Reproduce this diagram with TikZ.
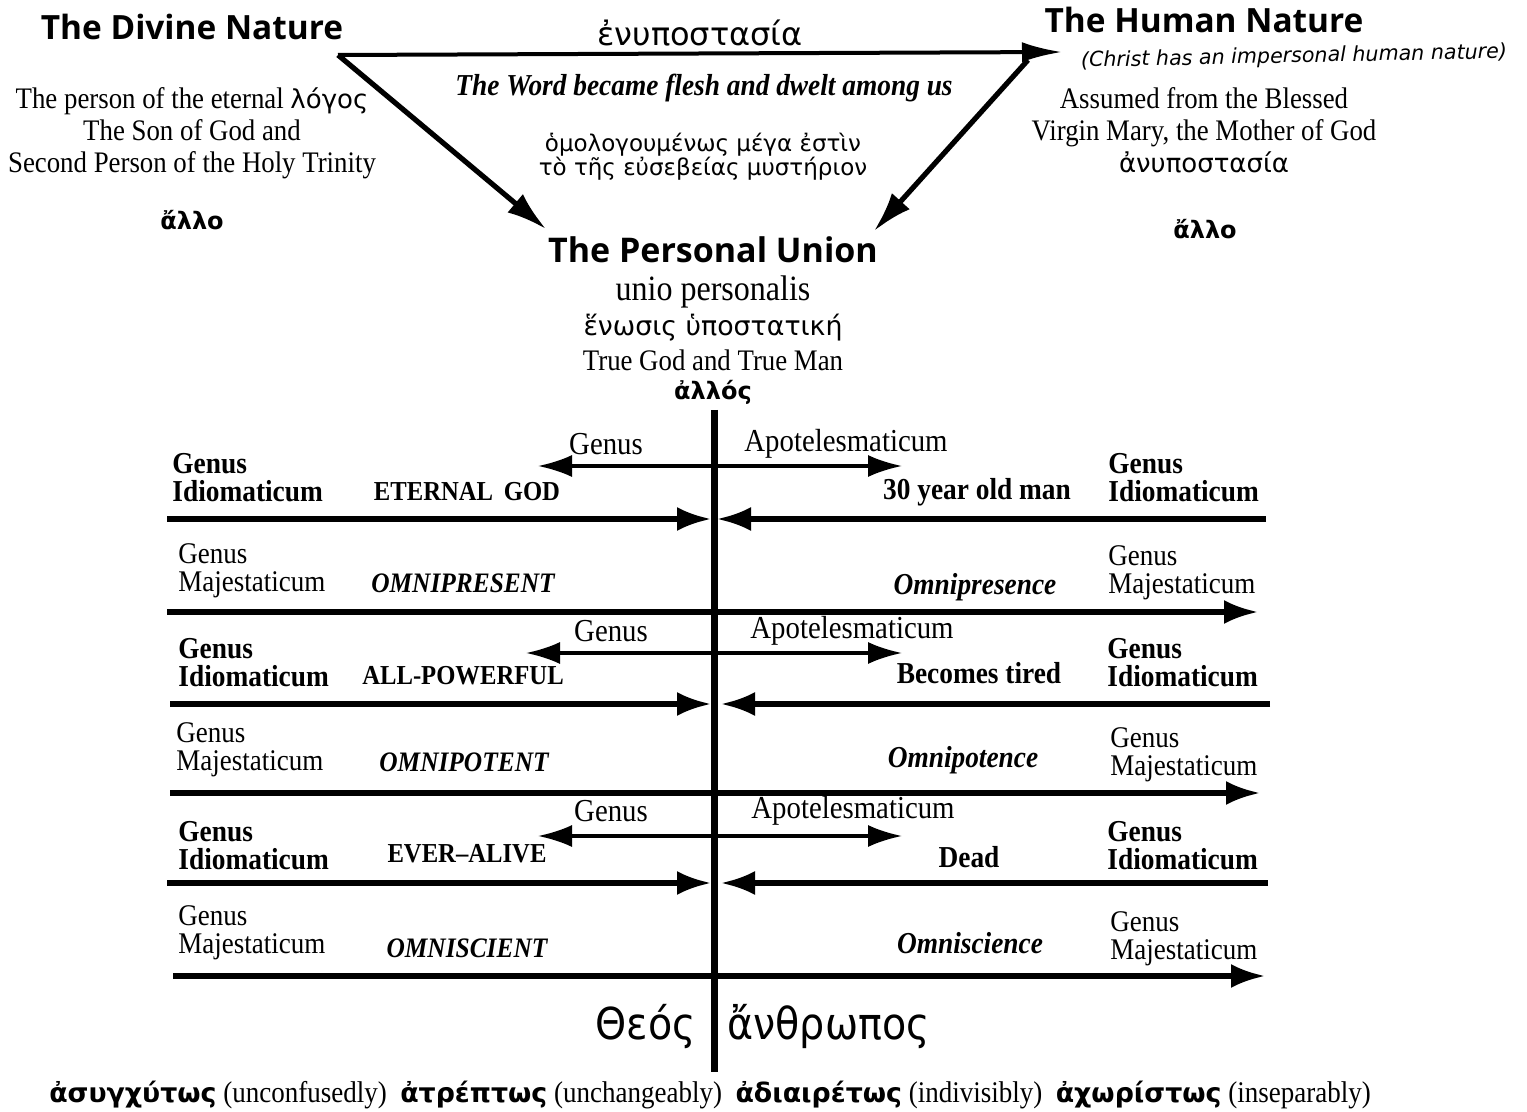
\documentclass[tikz,border=0pt]{standalone}
\usepackage{fontspec}
\setmainfont{Liberation Serif}[FakeStretch=0.9]
\newfontfamily\gr{DejaVu Sans}
\newfontfamily\grc{DejaVu Sans}[FakeStretch=0.9]
\newfontfamily\titlefont{Open Sans}
\usetikzlibrary{arrows.meta}
\begin{document}
\begin{tikzpicture}[x=0.5pt,y=-0.5pt,
  every node/.style={inner sep=0pt},
  title/.style={font=\titlefont\bfseries\fontsize{16.7}{18}\selectfont},
  body/.style={font=\fontsize{14.9}{16}\selectfont, align=center},
  grk/.style={font=\gr\fontsize{13.4}{14}\selectfont},
  grkb/.style={font=\gr\bfseries\fontsize{12}{14}\selectfont},
  labI/.style={font=\bfseries\fontsize{15.2}{14}\selectfont, align=left, anchor=west},
  labM/.style={font=\fontsize{15}{14}\selectfont, align=left, anchor=west},
  top/.style={font=\fontsize{16}{16}\selectfont},
  capI/.style={font=\bfseries\fontsize{13.7}{16}\selectfont},
  lowI/.style={font=\bfseries\fontsize{15.2}{16}\selectfont},
  capM/.style={font=\bfseries\itshape\fontsize{14.1}{16}\selectfont},
  lowM/.style={font=\bfseries\itshape\fontsize{15.2}{16}\selectfont},
  thick line/.style={line width=2.6pt},
  thin line/.style={line width=1.6pt},
  tip/.style={-{Latex[length=17pt,width=12pt]}},
  dtip/.style={{Latex[length=17pt,width=11pt]}-{Latex[length=17pt,width=11pt]}}
]
\useasboundingbox (0,0) rectangle (1527,1112);

% ---------- top ----------
\node[title] (divine) at (192,27) {The Divine Nature};
\node[title] (human) at (1204,20) {The Human Nature};
\node[font=\gr\itshape\fontsize{10.3}{11}\selectfont, rotate=1.2] (note) at (1294,57) {(Christ has an impersonal human nature)};
\node[font=\gr\fontsize{16}{17}\selectfont] (enhyp) at (700,33) {ἐνυποστασία};

\node[font=\bfseries\itshape\fontsize{15.2}{16}\selectfont] (word) at (704,88) {The Word became flesh and dwelt among us};
\node[align=center, font=\gr\fontsize{11.5}{12}\selectfont] (myst) at (703,157) {ὁμολογουμένως μέγα ἐστὶν\\τὸ τῆς εὐσεβείας μυστήριον};

\node[body] (divtext) at (192,133) {The person of the eternal {\gr\fontsize{13}{16}\selectfont λόγος}\\The Son of God and\\Second Person of the Holy Trinity};
\node[grkb] (allo1) at (192,220) {ἄλλο};

\node[body] (humtext) at (1204,130) {Assumed from the Blessed\\Virgin Mary, the Mother of God\\{\gr\fontsize{13}{16}\selectfont ἀνυποστασία}};
\node[grkb] (allo2) at (1205,229) {ἄλλο};

\coordinate (ta) at (338,55);
\coordinate (tb) at (1062,52);
\coordinate (tc) at (1028,60);
\coordinate (ua) at (546,229);
\coordinate (ub) at (874,231);
\draw[line width=2pt, -{Latex[length=20pt,width=10pt]}] (ta) -- (tb);
\draw[thick line, -{Latex[length=20pt,width=12pt]}] (ta) -- (ua);
\draw[thick line, -{Latex[length=20pt,width=12pt]}] (tc) -- (ub);

% ---------- personal union ----------
\node[title, font=\titlefont\bfseries\fontsize{17}{18}\selectfont] (union) at (713,250) {The Personal Union};
\node[font=\fontsize{17.8}{18}\selectfont] (unio) at (713,292) {unio personalis};
\node[grk] (enosis) at (713,328) {ἕνωσις ὑποστατική};
\node[body] (truegod) at (713,360) {True God and True Man};
\node[grkb] (allos) at (713,392) {ἀλλός};

\coordinate (vtop) at (714,410);
\coordinate (vbot) at (714,1072);
\draw[line width=3.5pt] (vtop) -- (vbot);

% ---------- row 1 ----------
\node[top] (g1) at (606,444) {Genus};
\node[top] (a1) at (846,444) {Apotelesmaticum};
\coordinate (d1l) at (538,466); \coordinate (d1r) at (902,466);
\draw[thin line, dtip] (d1l) -- (d1r);
\node[labI] (l1) at (172,478) {Genus\\Idiomaticum};
\node[capI] (c1l) at (467,492) {ETERNAL\, GOD};
\node[lowI] (c1r) at (977,492) {30 year old man};
\node[labI] (r1) at (1108,478) {Genus\\Idiomaticum};
\coordinate (h1a) at (167,519); \coordinate (h1b) at (711,519);
\coordinate (h1c) at (1266,519); \coordinate (h1d) at (717,519);
\draw[thick line, tip] (h1a) -- (h1b);
\draw[thick line, tip] (h1c) -- (h1d);

% ---------- row 2 ----------
\node[labM] (l2) at (178,571) {Genus\\Majestaticum};
\node[capM] (c2l) at (463,583) {OMNIPRESENT};
\node[lowM] (c2r) at (975,587) {Omnipresence};
\node[labM] (r2) at (1108,573) {Genus\\Majestaticum};
\coordinate (h2a) at (167,612); \coordinate (h2b) at (1258,612);
\draw[thick line, tip] (h2a) -- (h2b);

% ---------- row 3 ----------
\node[top] (g3) at (611,631) {Genus};
\node[top] (a3) at (852,631) {Apotelesmaticum};
\coordinate (d3l) at (526,653); \coordinate (d3r) at (902,653);
\draw[thin line, dtip] (d3l) -- (d3r);
\node[labI] (l3) at (178,663) {Genus\\Idiomaticum};
\node[capI] (c3l) at (463,676) {ALL-POWERFUL};
\node[lowI] (c3r) at (979,673) {Becomes tired};
\node[labI] (r3) at (1107,663) {Genus\\Idiomaticum};
\coordinate (h3a) at (170,704); \coordinate (h3b) at (711,704);
\coordinate (h3c) at (1270,704); \coordinate (h3d) at (721,704);
\draw[thick line, tip] (h3a) -- (h3b);
\draw[thick line, tip] (h3c) -- (h3d);

% ---------- row 4 ----------
\node[labM] (l4) at (176,750) {Genus\\Majestaticum};
\node[capM] (c4l) at (464,762) {OMNIPOTENT};
\node[lowM] (c4r) at (963,760) {Omnipotence};
\node[labM] (r4) at (1110,755) {Genus\\Majestaticum};
\coordinate (h4a) at (170,793); \coordinate (h4b) at (1260,793);
\draw[thick line, tip] (h4a) -- (h4b);

% ---------- row 5 ----------
\node[top] (g5) at (611,811) {Genus};
\node[top] (a5) at (853,811) {Apotelesmaticum};
\coordinate (d5l) at (538,836); \coordinate (d5r) at (902,836);
\draw[thin line, dtip] (d5l) -- (d5r);
\node[labI] (l5) at (178,846) {Genus\\Idiomaticum};
\node[capI] (c5l) at (467,854) {EVER–ALIVE};
\node[lowI] (c5r) at (969,857) {Dead};
\node[labI] (r5) at (1107,846) {Genus\\Idiomaticum};
\coordinate (h5a) at (167,883); \coordinate (h5b) at (711,883);
\coordinate (h5c) at (1268,883); \coordinate (h5d) at (721,883);
\draw[thick line, tip] (h5a) -- (h5b);
\draw[thick line, tip] (h5c) -- (h5d);

% ---------- row 6 ----------
\node[labM] (l6) at (178,933) {Genus\\Majestaticum};
\node[capM] (c6l) at (467,948) {OMNISCIENT};
\node[lowM] (c6r) at (970,943) {Omniscience};
\node[labM] (r6) at (1110,939) {Genus\\Majestaticum};
\coordinate (h6a) at (173,976); \coordinate (h6b) at (1265,976);
\draw[thick line, tip] (h6a) -- (h6b);

% ---------- bottom ----------
\node[font=\grc\fontsize{22}{24}\selectfont, anchor=east] (theos) at (696,1027) {Θεός};
\node[font=\grc\fontsize{22}{24}\selectfont, anchor=west] (anthr) at (727,1027) {ἄνθρωπος};

\node[font=\fontsize{15}{16}\selectfont] (adverbs) at (710,1095) {{\gr\bfseries\fontsize{13.4}{16}\selectfont ἀσυγχύτως} (unconfusedly)\ \ {\gr\bfseries\fontsize{13.4}{16}\selectfont ἀτρέπτως} (unchangeably)\ \ {\gr\bfseries\fontsize{13.4}{16}\selectfont ἀδιαιρέτως} (indivisibly)\ \ {\gr\bfseries\fontsize{13.4}{16}\selectfont ἀχωρίστως} (inseparably)};
\end{tikzpicture}
\end{document}
